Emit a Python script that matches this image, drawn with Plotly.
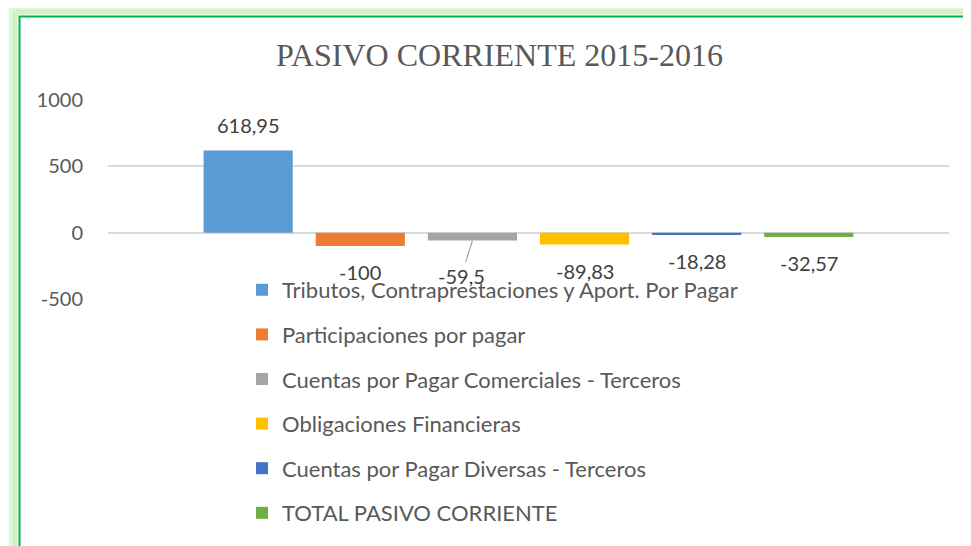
import plotly.graph_objects as go

title_text = "PASIVO CORRIENTE 2015-2016"
series_names = [
    "Tributos, Contraprestaciones y Aport. Por Pagar",
    "Participaciones por pagar",
    "Cuentas por Pagar Comerciales - Terceros",
    "Obligaciones Financieras",
    "Cuentas por Pagar Diversas - Terceros",
    "TOTAL PASIVO CORRIENTE",
]
series_values = [618.95, -100, -59.5, -89.83, -18.28, -32.57]
series_colors = ["#5b9bd5", "#ed7d31", "#a5a5a5", "#ffc000", "#4472c4", "#70ad47"]
category = ["2015-2016"]
y_ticks = [-500, 0, 500, 1000]

W, H = 971, 546
OFF = 8  # page body margin
# plot area in page pixels
PX0, PX1, PY0, PY1 = 108, 949, 100, 299
L = PX0 - OFF
T = PY0 - OFF
R = W - (PX1 - OFF)
B = H - (PY1 - OFF)
bargap, bargroupgap = 0.2, 0.205

font_sans = "Lato, Carlito, Calibri, sans-serif"
txt_col = "#595959"

fig = go.Figure()
for i, (n, v, c) in enumerate(zip(series_names, series_values, series_colors)):
    fig.add_trace(go.Bar(
        x=category, y=[v], name=n, marker=dict(color=c, line=dict(width=0)),
        legendgroup=f"g{i}", hoverinfo="skip",
    ))

# data labels
nser = len(series_values)
slot = (1 - bargap) / nser
annotations = []
for i, v in enumerate(series_values):
    xc = -(1 - bargap) / 2 + (i + 0.5) * slot
    label = f"{v:g}".replace(".", ",")
    if i == 2:
        annotations.append(dict(
            x=xc, y=v, xref="x", yref="y", text=label, showarrow=True,
            arrowhead=0, arrowwidth=1.2, arrowcolor="#a5a5a5", ax=-11, ay=35,
            standoff=0, font=dict(family=font_sans, size=20, color="#404040"),
        ))
    else:
        annotations.append(dict(
            x=xc, y=v, xref="x", yref="y", text=label, showarrow=False,
            yshift=26 if v > 0 else -26,
            font=dict(family=font_sans, size=20, color="#404040"),
        ))

pw = PX1 - PX0
ph = PY1 - PY0
def px_x(p):  # page pixel -> paper
    return (p - PX0) / pw
def px_y(p):
    return (PY1 - p) / ph

shapes = []
for off, col, w in [(12, "#f4fbf1", 6), (8, "#e3f6da", 4), (4, "#d2f1c3", 5)]:
    shapes.append(dict(type="rect", xref="paper", yref="paper",
                       x0=px_x(19 - off), y0=px_y(16 - off), x1=px_x(W + 60), y1=px_y(H + 60),
                       line=dict(color=col, width=w), layer="below"))
shapes.append(dict(type="rect", xref="paper", yref="paper",
                   x0=px_x(19.5), y0=px_y(16.5), x1=px_x(W + 60), y1=px_y(H + 60),
                   line=dict(color="#00b050", width=2), layer="below"))

fig.update_layout(
    width=W, height=H,
    margin=dict(l=L, r=R, t=T, b=B, autoexpand=False),
    paper_bgcolor="white", plot_bgcolor="white",
    barmode="group", bargap=bargap, bargroupgap=bargroupgap,
    title=dict(text=title_text, x=px_x(499.5), xanchor="center", xref="paper",
               y=1 - (55 - OFF) / H, yanchor="middle",
               font=dict(family="Liberation Serif, Times New Roman, serif", size=32, color=txt_col)),
    showlegend=True,
    legend=dict(
        x=px_x(242), xanchor="left", y=px_y(269), yanchor="top",
        orientation="v", tracegroupgap=13, maxheight=500,
        font=dict(family=font_sans, size=22, color=txt_col),
        bgcolor="rgba(0,0,0,0)", itemclick=False, itemdoubleclick=False,
    ),
    xaxis=dict(showticklabels=False, showgrid=False, zeroline=False, showline=False,
               fixedrange=True),
    yaxis=dict(range=[-500, 1000], tickvals=y_ticks, ticktext=[str(t) for t in y_ticks],
               showgrid=True, gridcolor="#d9d9d9", gridwidth=1.5,
               zeroline=True, zerolinecolor="#d9d9d9", zerolinewidth=1.5,
               showline=False, ticks="", ticklabelstandoff=24,
               tickfont=dict(family=font_sans, size=20, color=txt_col), fixedrange=True),
    annotations=annotations,
    shapes=shapes,
)

fig.write_html("out.html")
